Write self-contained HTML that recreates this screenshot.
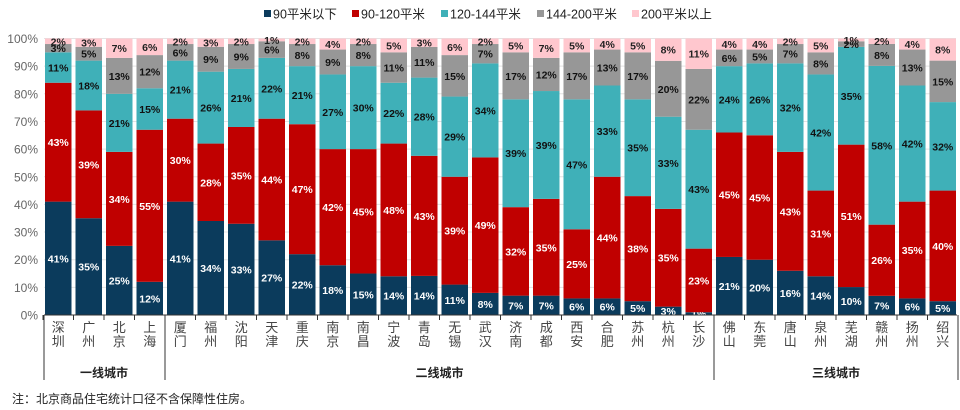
<!DOCTYPE html>
<html><head><meta charset="utf-8">
<style>
html,body{margin:0;padding:0;background:#fff;}
svg{display:block;font-family:"Liberation Sans","Noto Sans CJK SC",sans-serif;}
</style></head>
<body>
<svg id="chart" width="960" height="410" viewBox="0 0 960 410" xmlns="http://www.w3.org/2000/svg">
<g id="legend"></g>
<g id="grid"></g>
<g id="yaxis"></g>
<g id="bars"></g>
<g id="xaxis"></g>
<text x="12" y="403" font-size="12" fill="#222">注：北京商品住宅统计口径不含保障性住房。</text>
</svg>
<script>
const categories = ["深圳","广州","北京","上海","厦门","福州","沈阳","天津","重庆","南京","南昌","宁波","青岛","无锡","武汉","济南","成都","西安","合肥","苏州","杭州","长沙","佛山","东莞","唐山","泉州","芜湖","赣州","扬州","绍兴"];
const seriesNames = ["90平米以下","90-120平米","120-144平米","144-200平米","200平米以上"];
const s90 = [41,35,25,12,41,34,33,27,22,18,15,14,14,11,8,7,7,6,6,5,3,1,21,20,16,14,10,7,6,5];
const s90to120 = [43,39,34,55,30,28,35,44,47,42,45,48,43,39,49,32,35,25,44,38,35,23,45,45,43,31,51,26,35,40];
const s120to144 = [11,18,21,15,21,26,21,22,21,27,30,22,28,29,34,39,39,47,33,35,33,43,24,26,32,42,35,58,42,32];
const s144to200 = [3,5,13,12,6,9,9,6,8,9,8,11,11,15,7,17,12,17,13,17,20,22,6,5,7,8,2,8,13,15];
const s200plus = [2,3,7,6,2,3,2,1,2,4,2,5,3,6,2,5,7,5,4,5,8,11,4,4,2,5,1,2,4,8];
const yTicks = [0,10,20,30,40,50,60,70,80,90,100];
const groups = [{name:"一线城市",from:0,to:3},{name:"二线城市",from:4,to:21},{name:"三线城市",from:22,to:29}];

const colors = ["#0b3b5c","#c00000","#3fb0b8","#979797","#ffc7ce"];
const labelColors = ["#fff","#fff","#111","#111","#222"];
const NS = "http://www.w3.org/2000/svg";
const X0 = 44, pitch = 30.5, bw = 26.5;
const Y0 = 315, Y100 = 38.5;
const yScale = v => Y0 - (Y0 - Y100) * v / 100;
const xLeft = i => X0 + 1 + i * pitch;
function mk(tag, attrs, parent){const e=document.createElementNS(NS,tag);for(const k in attrs)e.setAttribute(k,attrs[k]);parent.appendChild(e);return e;}

const grid = document.getElementById('grid'), yaxis = document.getElementById('yaxis');
yTicks.forEach(t=>{
  const y = yScale(t);
  if(t>0){const g=mk('line',{x1:X0,x2:956,y1:y,y2:y,stroke:'#e3e3e3','stroke-width':1},grid);
  
  }
  const tx = mk('text',{x:38,y:y+4.5,'font-size':12,fill:'#666','text-anchor':'end'},yaxis);
  tx.textContent = t + '%';
  
  
});

const series = [s90,s90to120,s120to144,s144to200,s200plus];
const bars = document.getElementById('bars');
categories.forEach((c,i)=>{
  const vals = series.map(s=>s[i]);
  const total = vals.reduce((a,b)=>a+b,0);
  let cum = 0;
  const g = mk('g',{},bars);
  
  
  vals.forEach((v,k)=>{
    const yb = yScale(cum/total*100), yt = yScale((cum+v)/total*100);
    cum += v;
    const r = mk('rect',{x:xLeft(i),y:yt,width:bw,height:Math.max(0,yb-yt),fill:colors[k]},g);
    
    
    const t = mk('text',{x:xLeft(i)+bw/2,y:(yt+yb)/2+4,'font-size':10.5,'font-weight':'bold',fill:labelColors[k],'text-anchor':'middle'},g);
    t.textContent = v + '%';
    
    
  });
});

const xaxis = document.getElementById('xaxis');
mk('line',{x1:X0,x2:957,y1:Y0,y2:Y0,stroke:'#333','stroke-width':1},xaxis);
categories.forEach((c,i)=>{
  const cx = xLeft(i)+bw/2;
  const tk = mk('line',{x1:xLeft(i)-2,x2:xLeft(i)-2,y1:Y0,y2:Y0+5,stroke:'#333'},xaxis);
  
  
  [...c].forEach((ch,j)=>{
    const t = mk('text',{x:cx,y:332+j*14,'font-size':13,fill:'#444','text-anchor':'middle'},xaxis);
    t.textContent = ch;
    
    
  });
});
groups.forEach((g,gi)=>{
  const x1 = xLeft(g.from)-2, x2 = xLeft(g.to)+bw+2;
  if(gi===0){mk('line',{x1:X0,x2:X0,y1:Y0,y2:380,stroke:'#333'},xaxis);}
  mk('line',{x1:x2,x2:x2,y1:Y0,y2:380,stroke:'#333'},xaxis);
  const t = mk('text',{x:(x1+x2)/2,y:377,'font-size':12,'font-weight':'bold',fill:'#222','text-anchor':'middle'},xaxis);
  t.textContent = g.name;
  
  
});

const legend = document.getElementById('legend');
const lx = [264,352,441,537,632];
seriesNames.forEach((n,k)=>{
  const g = mk('g',{},legend);
  
  
  mk('rect',{x:lx[k],y:10,width:7,height:7,fill:colors[k]},g);
  const t = mk('text',{x:lx[k]+9,y:18.5,'font-size':12.5,fill:'#222'},g);
  t.textContent = n;
});
</script>
</body></html>
